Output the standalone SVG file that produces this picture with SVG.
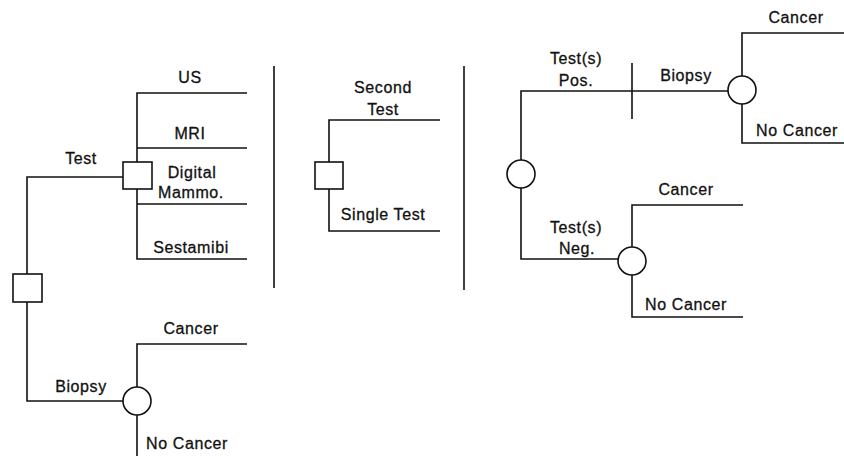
<svg xmlns="http://www.w3.org/2000/svg" width="844" height="456" viewBox="0 0 844 456">
<style>
.ln{fill:none;stroke:#111;stroke-width:1.6}
.nd{fill:#fff;stroke:#111;stroke-width:1.6}
text{font-family:"Liberation Sans",Arial,sans-serif;font-size:16px;fill:#111;stroke:#111;stroke-width:0.3;letter-spacing:0.6px;text-anchor:middle}
</style>
<rect width="844" height="456" fill="#fff"/>
<g id="connectors" class="ln">
<path d="M27,274 V177 H123"/>
<path d="M27,302 V401 H123"/>
<path d="M247,93 H137 V259 H247"/>
<path d="M137,148 H247"/>
<path d="M137,204 H247"/>
<path d="M247,344 H137 V456"/>
<path d="M274,66 V288"/>
<path d="M464,66 V290"/>
<path d="M440,120 H329 V231 H440"/>
<path d="M728,91 H521 V259 H618"/>
<path d="M632,63 V119"/>
<path d="M844,33 H742 V143 H844"/>
<path d="M743,205 H632 V317 H743"/>
</g>
<g id="n-root"><rect class="nd" x="13" y="274" width="29" height="28"/></g>
<g id="n-test"><rect class="nd" x="123" y="162" width="29" height="27"/></g>
<g id="n-biopsy"><circle class="nd" cx="137" cy="401" r="14"/></g>
<g id="n-second"><rect class="nd" x="315" y="162" width="28" height="27"/></g>
<g id="n-result"><circle class="nd" cx="521" cy="174" r="14"/></g>
<g id="n-pos"><circle class="nd" cx="742" cy="90" r="14"/></g>
<g id="n-neg"><circle class="nd" cx="632" cy="261" r="14"/></g>
<g id="labels">
<text x="190" y="83">US</text>
<text x="190" y="139">MRI</text>
<text x="192" y="178">Digital</text>
<text x="191" y="198">Mammo.</text>
<text x="191" y="253">Sestamibi</text>
<text x="81" y="164">Test</text>
<text x="81" y="392">Biopsy</text>
<text x="191" y="334">Cancer</text>
<text x="187" y="449">No Cancer</text>
<text x="383" y="93">Second</text>
<text x="383" y="115">Test</text>
<text x="383" y="220">Single Test</text>
<text x="576" y="64">Test(s)</text>
<text x="576" y="86">Pos.</text>
<text x="686" y="81">Biopsy</text>
<text x="796" y="23">Cancer</text>
<text x="797" y="136">No Cancer</text>
<text x="576" y="233">Test(s)</text>
<text x="577" y="254">Neg.</text>
<text x="686" y="195">Cancer</text>
<text x="686" y="310">No Cancer</text>
</g>
</svg>
